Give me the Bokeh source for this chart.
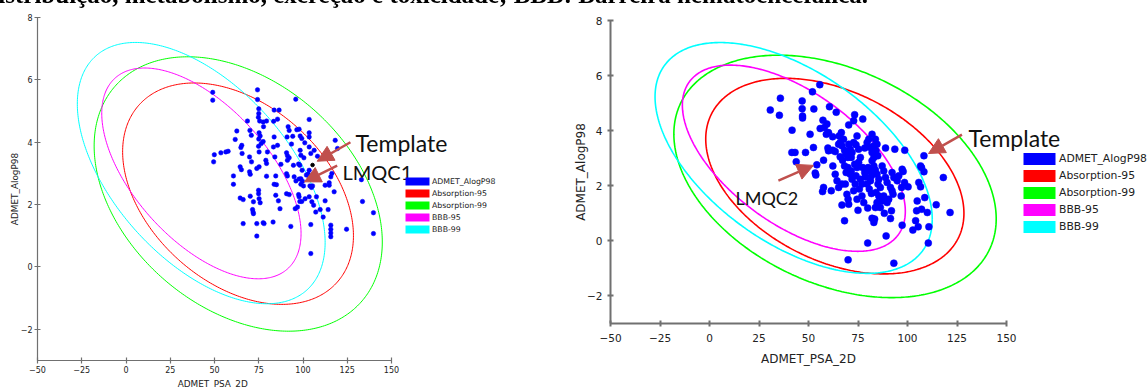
import numpy as np
from bokeh.plotting import figure
from bokeh.models import (Legend, LegendItem, Label, Arrow, NormalHead, Div, Range1d,
                          LinearAxis, FixedTicker)
from bokeh.layouts import column
from bokeh.embed import file_html
from bokeh.resources import INLINE

# ---------------- data ----------------
HEADER = "Absorção, distribuição, metabolismo, excreção e toxicidade; BBB: Barreira hematoencefálica."
X_TICKS = [-50, -25, 0, 25, 50, 75, 100, 125, 150]
Y_TICKS = [-2, 0, 2, 4, 6, 8]
X_TITLE = "ADMET_PSA_2D"
Y_TITLE = "ADMET_AlogP98"
LEGEND_LABELS = ["ADMET_AlogP98", "Absorption-95", "Absorption-99", "BBB-95", "BBB-99"]
LEGEND_COLORS = ["#0000ff", "#ff0000", "#00ff00", "#ff00ff", "#00ffff"]

# ellipse parameters (centre, semi-extent in x / y, correlation) for Absorption-95/99, BBB-95/99
ELL_CX = [63.3, 63.4, 42.6, 42.5]
ELL_CY = [2.35, 2.34, 3.00, 3.01]
ELL_RX = [65.2, 81.4, 56.3, 70.0]
ELL_RY = [3.55, 4.40, 3.38, 4.19]
ELL_C = [-0.38, -0.35, -0.57, -0.53]
ELL_COLORS = ["#ff0000", "#00ff00", "#ff00ff", "#00ffff"]

LEFT_PSA = [49, 49, 49.5, 74.3, 74.3, 75, 75, 74.8, 95.9, 83.7, 86.5,
            68.6, 75.5, 77.5, 79.4, 85.6, 83.4, 103.5,
            62.6, 70, 70.8, 75.2, 75.8, 75, 77.7, 76.4, 77.5,
            83.7, 91.6, 92.2, 96.5, 97.8, 91, 94.2, 98.4, 99.3, 103.5, 103.5, 101,
            61.7, 65.4, 64.9, 65.6, 49.9, 53.6, 56.4, 57.7,
            74.9, 75.2, 79.9, 83.3, 85.6, 90.7, 91.2, 93.5, 98.4, 98.8, 103.5, 104.4, 106.3, 108.2, 118.2, 119.5,
            69.8, 70.9, 79, 79.4, 84.1, 87.5, 91.2, 92.2, 94.6, 98.2,
            64.5, 65.2, 73.9, 75.2, 103.5, 102.9,
            60.7, 69.8, 70.2, 79.4, 84.6, 90.7, 91.2, 95, 96, 98.8, 99.7, 103.5,
            60.7, 83.7, 85, 98.8, 103.9, 105.4, 112.5, 114.8, 115.7, 116.3, 114.8, 133, 117.6,
            64.5, 66.2, 70.2, 74.9, 74.9, 75.2, 75.8, 72, 84.6, 86.1, 90.7, 92.2, 97.5, 97.8, 98.2, 99.3,
            101.2, 103.5, 105, 106, 107.6, 112.5,
            95.6, 96.9, 87, 71.5, 71.8, 72, 107.2, 109.7, 114.2, 111.4,
            115.7, 115.7, 115.7, 115.7, 124.6, 133.6, 139.8, 139.8,
            66.2, 73.9, 73.9, 77.5, 78, 83.1, 93.1, 104.4, 104.4,
            100.5, 97.5, 99.5, 101.9, 97.8, 100.3, 104.8]
LEFT_ALOGP = [5.6, 5.35, 3.37, 5.68, 5.37, 5.07, 4.92, 4.8, 5.38, 5.03, 5.03,
              4.68, 4.68, 4.65, 4.68, 4.74, 4.67, 4.73,
              4.36, 4.38, 4.22, 4.3, 4.2, 4.1, 4.5, 3.96, 4.02,
              4.17, 4.5, 4.38, 4.4, 4.42, 4.17, 4.19, 4.2, 4.12, 4.3, 4.17, 3.98,
              4.09, 3.9, 3.83, 3.64, 3.6, 3.66, 3.69, 3.71,
              3.87, 3.69, 3.69, 3.85, 3.9, 3.66, 3.57, 3.94, 3.74, 3.58, 3.85, 3.64, 3.74, 3.55, 4.06, 3.8,
              3.53, 3.37, 3.42, 3.32, 3.53, 3.29, 3.42, 3.5, 3.26, 3.26,
              3.21, 3.12, 3.16, 3.21, 3.1, 2.98,
              2.92, 3.05, 2.97, 2.91, 2.92, 2.99, 2.92, 2.89, 2.76, 2.83, 2.75, 2.89,
              2.65, 2.65, 2.64, 2.65, 2.6, 2.6, 2.62, 2.62, 2.89, 3.0, 2.7, 2.8, 2.41,
              2.21, 2.16, 2.27, 2.46, 2.35, 2.19, 2.06, 2.09, 2.3, 2.12, 2.35, 2.32, 2.32, 2.25, 2.1, 2.1,
              2.19, 2.25, 2.09, 1.98, 2.25, 2.12,
              1.87, 1.92, 1.87, 1.84, 1.76, 1.71, 1.76, 1.84, 1.84, 1.6,
              1.34, 1.21, 1.09, 0.97, 1.21, 2.1, 1.74, 1.07,
              1.39, 1.39, 0.99, 1.42, 1.39, 1.44, 1.3, 1.36, 0.43,
              3.5, 3.3, 3.1, 2.95, 2.82, 2.6, 2.55]
LEFT_TEMPLATE_PSA = [105.4]
LEFT_TEMPLATE_ALOGP = [3.27]

RIGHT_PSA = [30.7, 35.8, 35.3, 46.8, 46.8, 47, 47, 52, 52.7, 55.7, 60.6, 64,
             41.7, 50.8, 57.3, 58, 55.9, 59.3, 60.1, 59, 62.2, 65.5, 66.6, 67.7, 70.3, 73.3, 72.8, 77.4,
             41.6, 43.2, 43.8, 48.5, 52.5, 59.8, 60.1, 54.2, 53.4, 53.7, 57.6, 62.3, 63.5,
             65.2, 66, 66.9, 68.2, 68.9, 69.9, 66, 67.2, 71.1, 72, 71.6, 74, 74.5, 75.3, 76.2, 78.4,
             79.6, 80.4, 82.1, 83.8, 81.3, 82.1, 83, 82.1, 84.1, 85, 88.9,
             62.3, 63.5, 64.4, 57.6, 57.1, 61.5, 65.2, 66.9,
             68.2, 69.9, 69, 71.1, 73.3, 74.5, 75.3, 72, 71.6,
             77.4, 78.4, 78.7, 80.1, 80.9, 81.8, 81.3, 83, 83.8, 84.6, 85.5, 85.1, 86.3,
             79.6, 80.7, 81.8, 87.2, 88, 88.9, 89.7, 92.2, 93.1, 94.8, 95.6, 91.4, 92.2, 92.7,
             97.3, 97.8, 98.5, 100.3, 97, 96.8, 98.6, 93.6,
             106.6, 107.1, 108.3, 108.3, 105.7, 106.6, 108.7, 104.9, 104.6, 107.1, 110, 110.8, 104.1, 102.7,
             105.4, 110.5, 114.5, 118.1, 121.5,
             97.3, 91.4, 91.9, 88.3, 89.2, 93.1, 79.9, 70, 68.2,
             66.9, 70, 70.3, 74.5, 75, 77, 77.9, 79.9, 82.1, 83, 83.4, 83.8, 84.6, 86.3, 87.2, 88, 89.7, 90.5,
             85.5, 84.1,
             77, 75.7, 73.6, 72.8, 68.6, 69.4, 76.2, 74, 70.3, 72.8, 83, 84.6]
RIGHT_ALOGP = [4.75, 5.18, 4.56, 5.08, 4.8, 4.53, 4.46, 5.41, 4.79, 5.67, 4.87, 4.67,
               4.02, 3.87, 4.38, 4.12, 4.08, 4.24, 3.93, 3.87, 3.78, 3.81, 3.93, 3.69, 4.21, 4.58, 4.36, 4.42,
               3.21, 3.21, 2.87, 3.21, 3.39, 3.37, 3.27, 2.76, 2.46, 2.39, 2.93, 3.29, 3.24,
               3.51, 3.57, 3.45, 3.29, 3.15, 3.03, 3.05, 2.93, 3.33, 3.21, 3.03, 3.49, 3.81, 3.33, 3.03, 3.37,
               3.57, 3.69, 3.87, 3.69, 3.39, 3.21, 3.03, 2.91, 3.27, 3.09, 3.37,
               2.72, 2.42, 2.18, 1.94, 1.79, 1.82, 1.94, 2.06,
               2.72, 2.66, 2.48, 2.42, 2.78, 2.66, 2.85, 2.24, 2.54,
               2.66, 2.48, 2.32, 2.66, 2.54, 2.36, 2.18, 2.72, 2.57, 2.42, 2.24, 2.06, 1.94,
               2.06, 1.88, 1.72, 2.72, 2.54, 2.3, 2.12, 2.48, 2.3, 2.18, 2.36, 1.94, 1.82, 1.69,
               2.6, 2.52, 2.12, 1.96, 1.94, 1.63, 3.29, 3.33,
               2.72, 2.66, 3.09, 2.51, 2.12, 1.96, 1.57, 1.45, 1.09, 1.15, 1.03, 0.51, 0.73, 0.39,
               0.51, -0.08, 1.31, 2.3, 1.03,
               0.57, 0.81, 1.09, 1.0, 0.18, -0.81, -0.08, -0.69, 0.73,
               1.3, 1.51, 1.33, 1.51, 1.11, 1.63, 1.39, 1.19, 0.82, 0.67, 0.79, 1.21, 1.39, 1.21, 1.45, 1.63, 1.39, 1.51,
               1.63, 1.76,
               2.06, 1.88, 2.06, 1.82, 2.06, 1.69, 2.24, 2.36, 3.51, 3.57, 3.45, 3.51]

# annotations: label text, label position, arrow start, arrow end (data units), font size
LEFT_NOTES = [("Template", 129.7, 3.97, 126.8, 4.00, 108.0, 3.39, "23px"),
              ("LMQC1", 122.3, 3.03, 119.3, 3.25, 100.8, 2.73, "20px")]
RIGHT_NOTES = [("Template", 130.8, 3.75, 127.5, 3.86, 110.6, 3.17, "23px"),
               ("LMQC2", 13.1, 1.54, 34.8, 2.19, 52.5, 2.74, "18px")]

ARROW_COLOR = "#c0504d"

# ---------------- page geometry (pixels) ----------------
W, H = 1148, 388          # canvas size
PAGE_X0, PAGE_Y0 = 0, 0    # canvas origin in the picture
# panel anchors in the picture: px of x=-50, px of x=150, px of y=8, px of y=-3
LEFT_BOX = (37, 391, 17, 360)
RIGHT_BOX = (610, 1006, 20, 323)


def ranges_for(box):
    px0, px1, py_top, py_bot = box
    sx = (px1 - px0) / 200.0
    sy = (py_bot - py_top) / 11.0
    x0 = -50 - (px0 - PAGE_X0) / sx
    x1 = -50 + (PAGE_X0 + W - px0) / sx
    y1 = 8 + (py_top - PAGE_Y0) / sy
    y0 = -3 - (PAGE_Y0 + H - py_bot) / sy
    return Range1d(x0, x1), Range1d(y0, y1)


def ellipse_xy(cx, cy, rx, ry, c):
    t = np.linspace(0, 2 * np.pi, 400)
    phi = np.arccos(c)
    return cx + rx * np.cos(t), cy + ry * np.cos(t - phi)


lxr, lyr = ranges_for(LEFT_BOX)
rxr, ryr = ranges_for(RIGHT_BOX)

p = figure(width=W, height=H, x_range=lxr, y_range=lyr, x_axis_type=None, y_axis_type=None,
           min_border=0, output_backend="svg", toolbar_location=None)
p.extra_x_ranges = {"rx": rxr}
p.extra_y_ranges = {"ry": ryr}
p.outline_line_color = None
p.background_fill_color = "white"
p.border_fill_color = "white"


def add_axes(xr, yr, axis_w, tick_font, title_font, tick_standoff, title_standoff, x_title):
    xa = LinearAxis(x_range_name=xr, y_range_name=yr, fixed_location=-3, bounds=(-50, 150),
                    ticker=FixedTicker(ticks=X_TICKS))
    ya = LinearAxis(x_range_name=xr, y_range_name=yr, fixed_location=-50, bounds=(-3, 8),
                    ticker=FixedTicker(ticks=Y_TICKS), axis_label=Y_TITLE)
    if x_title:
        xa.axis_label = X_TITLE
    for ax in (xa, ya):
        ax.axis_line_color = "#707070"
        ax.axis_line_width = axis_w
        ax.major_tick_line_color = "#707070"
        ax.major_tick_line_width = axis_w
        ax.major_tick_in = 3
        ax.major_tick_out = 3
        ax.minor_tick_line_color = None
        ax.major_label_text_font = "DejaVu Sans"
        ax.major_label_text_font_size = tick_font
        ax.major_label_text_color = "#222222"
        ax.axis_label_text_font = "DejaVu Sans"
        ax.axis_label_text_font_size = title_font
        ax.axis_label_text_font_style = "normal"
        ax.axis_label_text_color = "#222222"
    xa.major_label_standoff = tick_standoff[0]
    ya.major_label_standoff = tick_standoff[1]
    xa.axis_label_standoff = title_standoff[0]
    ya.axis_label_standoff = title_standoff[1]
    p.add_layout(xa, "below")
    p.add_layout(ya, "left")


def add_panel(xr, yr, psa, alogp, dot, ell_w, legend_cfg, notes):
    for cx, cy, rx, ry, c, col in zip(ELL_CX, ELL_CY, ELL_RX, ELL_RY, ELL_C, ELL_COLORS):
        ex, ey = ellipse_xy(cx, cy, rx, ry, c)
        p.line(ex, ey, line_color=col, line_width=ell_w, x_range_name=xr, y_range_name=yr)
    p.scatter(psa, alogp, size=dot, fill_color="#0000ff", line_color="#0000ff", line_width=0.5,
              x_range_name=xr, y_range_name=yr)
    items = []
    for lab, col in zip(LEGEND_LABELS, LEGEND_COLORS):
        # a single NaN row: nothing is drawn in the plot, only the legend swatch
        r = p.quad(left=[np.nan], right=[np.nan], top=[np.nan], bottom=[np.nan],
                   fill_color=col, line_color=None, x_range_name=xr, y_range_name=yr)
        items.append(LegendItem(label=lab, renderers=[r]))
    lx, ly, gw, gh, sp, lfont = legend_cfg
    leg = Legend(items=items, location=(lx, ly), glyph_width=gw, glyph_height=gh, spacing=sp,
                 label_standoff=0, label_height=gh, padding=0, margin=0,
                 border_line_color=None, background_fill_alpha=0,
                 label_text_font="DejaVu Sans", label_text_font_size=lfont,
                 label_text_color="#222222")
    p.add_layout(leg, "center")
    for text, tx, ty, x0, y0, x1, y1, fs in notes:
        p.add_layout(Arrow(end=NormalHead(size=16, fill_color=ARROW_COLOR, line_color=ARROW_COLOR),
                           x_start=x0, y_start=y0, x_end=x1, y_end=y1,
                           x_range_name=xr, y_range_name=yr,
                           line_color=ARROW_COLOR, line_width=2.5))
        p.add_layout(Label(x=tx, y=ty, text=text, text_font="Lato", text_font_size=fs,
                           x_range_name=xr, y_range_name=yr,
                           text_color="#111111", text_baseline="alphabetic", text_align="left"))


# left panel
add_axes("default", "default", 1.2, "8px", "8.9px", (2, 2), (3, -2), False)
add_panel("default", "default", LEFT_PSA, LEFT_ALOGP, 4.5, 1.0,
          (402, 154, 30, 10, 2, "7.8px"), LEFT_NOTES)
p.scatter(LEFT_TEMPLATE_PSA, LEFT_TEMPLATE_ALOGP, size=3.5, color="black")
p.add_layout(Label(x=49, y=-3.6, text=X_TITLE, text_font="DejaVu Sans", text_font_size="8.9px",
                   text_color="#222222", text_align="center", text_baseline="top"))

# right panel
add_axes("rx", "ry", 2, "10.5px", "12px", (7, 5), (7, -4), True)
add_panel("rx", "ry", RIGHT_PSA, RIGHT_ALOGP, 7, 1.6,
          (1019, 154, 40, 15, 2, "10.8px"), RIGHT_NOTES)

header = Div(text=('<div style="position:fixed;top:-18px;right:280px;white-space:nowrap;'
                   "font-family:'Liberation Serif';font-weight:bold;font-size:25px;"
                   'line-height:25px;color:#000;">' + HEADER + '</div>'),
             width=10, height=1, margin=0)

layout = column(p, header)
open("out.html", "w").write(file_html(layout, INLINE))
